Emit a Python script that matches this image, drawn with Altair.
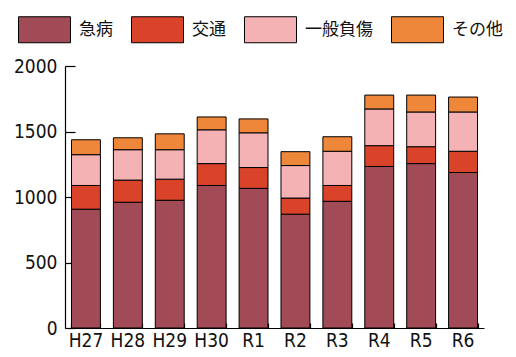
import altair as alt
import pandas as pd

years = ["H27", "H28", "H29", "H30", "R1", "R2", "R3", "R4", "R5", "R6"]
categories = ["急病", "交通", "一般負傷", "その他"]
kyubyo = [907, 960, 975, 1088, 1066, 869, 967, 1233, 1255, 1187]
kotsu = [181, 169, 161, 167, 159, 123, 121, 159, 129, 162]
ippan = [235, 232, 225, 258, 265, 248, 261, 280, 265, 300]
sonota = [114, 91, 121, 98, 106, 106, 111, 106, 129, 114]
colors = ["#A04B55", "#D9432A", "#F4B2B4", "#EE873A"]
y_ticks = [0, 500, 1000, 1500, 2000]

series = [kyubyo, kotsu, ippan, sonota]
rows = []
for ci, (cat, vals) in enumerate(zip(categories, series)):
    for y, v in zip(years, vals):
        rows.append({"年度": y, "種別": cat, "件数": v, "順": ci})
df = pd.DataFrame(rows)

W, H = 419, 262
LABEL_FONT = "DejaVu Sans Condensed, sans-serif"

xscale = alt.Scale(domain=years, paddingInner=0.31, paddingOuter=0.155)
yscale = alt.Scale(domain=[0, 2000], nice=False)

bars = alt.Chart(df).mark_bar(stroke="black", strokeWidth=1).encode(
    x=alt.X("年度:N", scale=xscale, sort=years,
            axis=alt.Axis(title=None, labelAngle=0, ticks=False, tickSize=0,
                          labelPadding=3, labelFontSize=19, labelFont=LABEL_FONT,
                          labelColor="#111", domainColor="black", domainWidth=1.2)),
    y=alt.Y("sum(件数):Q", scale=yscale, stack="zero",
            axis=alt.Axis(title=None, values=y_ticks, ticks=False, tickSize=0,
                          format="d",
                          labelPadding=8, labelFontSize=19, labelFont=LABEL_FONT,
                          labelColor="#111", domainColor="black", domainWidth=1.2,
                          grid=False)),
    color=alt.Color("種別:N", scale=alt.Scale(domain=categories, range=colors),
                    legend=alt.Legend(title=None, orient="none", direction="horizontal",
                                      legendX=-47, legendY=-63, padding=0,
                                      symbolType="M-1,-0.5H1V0.5H-1Z", symbolSize=2704,
                                      symbolStrokeColor="black", symbolStrokeWidth=1,
                                      symbolOpacity=1,
                                      labelFont="Noto Sans CJK JP", labelFontSize=17,
                                      labelColor="#111", labelOffset=8,
                                      columnPadding=16, labelLimit=200)),
    order=alt.Order("順:Q", sort="ascending"),
)

ticks_layer = alt.Chart(df).mark_bar(opacity=0).encode(
    x=alt.X("年度:N", scale=xscale, sort=years,
            axis=alt.Axis(title=None, orient="top", offset=-H, labels=False,
                          domain=False, tickBand="extent", tickSize=5,
                          tickColor="black", tickWidth=1.2)),
    y=alt.Y("sum(件数):Q", scale=yscale,
            axis=alt.Axis(title=None, orient="right", offset=-W, labels=False,
                          domain=False, values=y_ticks, tickSize=10,
                          tickColor="black", tickWidth=1.2, grid=False)),
)

chart = alt.layer(bars, ticks_layer).resolve_axis(
    x="independent", y="independent"
).properties(
    width=W, height=H,
    autosize=alt.AutoSizeParams(type="none"),
    padding={"left": 57, "top": 58, "right": 24, "bottom": 29},
).configure_view(stroke=None)

chart.save("out.html", embed_options={"renderer": "svg", "actions": False})
